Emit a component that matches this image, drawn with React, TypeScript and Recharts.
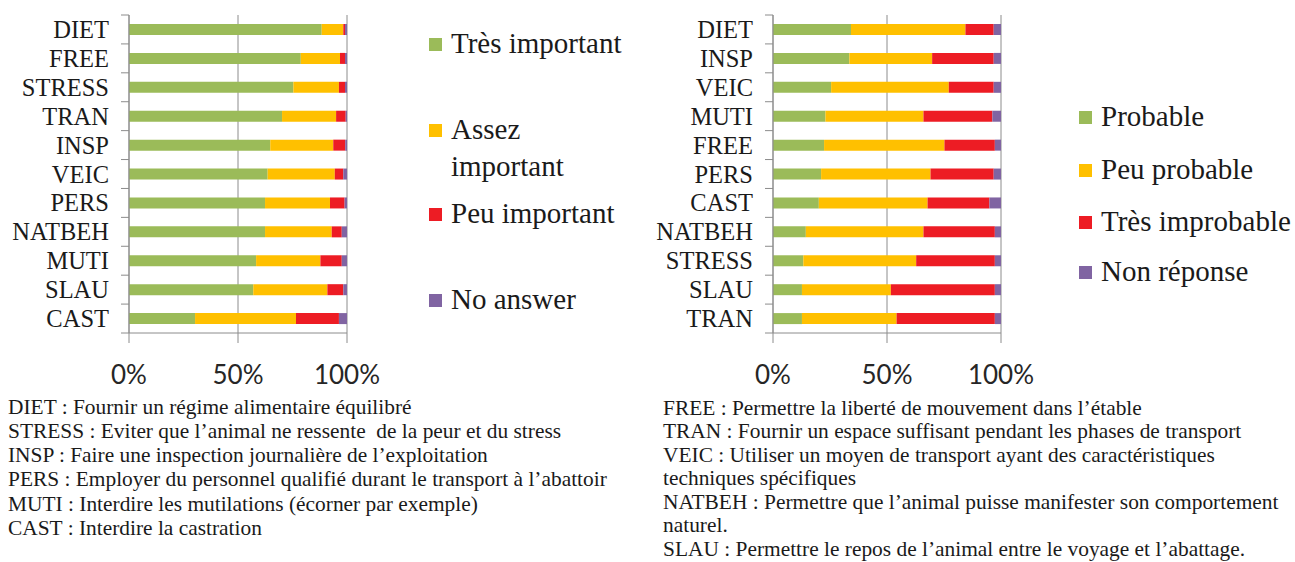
import { BarChart, Bar, XAxis, YAxis, CartesianGrid } from "recharts";

// left panel: importance
const categoriesLeft = ["DIET", "FREE", "STRESS", "TRAN", "INSP", "VEIC", "PERS", "NATBEH", "MUTI", "SLAU", "CAST"];
const tresImportant = [88.4, 78.8, 75.4, 70.2, 64.8, 63.6, 62.4, 62.4, 58.3, 57.0, 30.3];
const assezImportant = [9.9, 18.0, 20.9, 24.8, 28.9, 30.8, 29.8, 30.6, 29.5, 34.0, 46.3];
const peuImportant = [0.8, 2.3, 2.8, 4.4, 5.5, 3.9, 6.7, 4.6, 9.8, 7.3, 19.7];
const noAnswer = [0.9, 0.9, 0.9, 0.6, 0.8, 1.7, 1.1, 2.4, 2.4, 1.7, 3.7];

// right panel: probability
const categoriesRight = ["DIET", "INSP", "VEIC", "MUTI", "FREE", "PERS", "CAST", "NATBEH", "STRESS", "SLAU", "TRAN"];
const probable = [34.2, 33.5, 25.5, 23.0, 22.4, 21.1, 20.1, 14.4, 13.3, 12.7, 12.7];
const peuProbable = [50.2, 36.3, 51.6, 43.0, 52.8, 48.0, 47.7, 51.6, 49.5, 39.0, 41.5];
const tresImprobable = [12.4, 27.0, 19.7, 30.2, 22.1, 27.7, 27.1, 31.3, 34.5, 45.6, 43.1];
const nonReponse = [3.2, 3.2, 3.2, 3.8, 2.7, 3.2, 5.1, 2.7, 2.7, 2.7, 2.7];

const xTicks = [0, 0.5, 1];
const seriesColors = ["#9BBB59", "#FFC000", "#ED1C24", "#8064A2"];
const legendLeft = ["Très important", "Assez important", "Peu important", "No answer"];
const legendRight = ["Probable", "Peu probable", "Très improbable", "Non réponse"];

const notesLeft = [
  "DIET : Fournir un régime alimentaire équilibré",
  "STRESS : Eviter que l’animal ne ressente  de la peur et du stress",
  "INSP : Faire une inspection journalière de l’exploitation",
  "PERS : Employer du personnel qualifié durant le transport à l’abattoir",
  "MUTI : Interdire les mutilations (écorner par exemple)",
  "CAST : Interdire la castration",
];
const notesRight = [
  "FREE : Permettre la liberté de mouvement dans l’étable",
  "TRAN : Fournir un espace suffisant pendant les phases de transport",
  "VEIC : Utiliser un moyen de transport ayant des caractéristiques",
  "techniques spécifiques",
  "NATBEH : Permettre que l’animal puisse manifester son comportement",
  "naturel.",
  "SLAU : Permettre le repos de l’animal entre le voyage et l’abattage.",
];

const GRAY = "#8c8c8c";
const SERIF = "Liberation Serif";
const CHART_H = 400;
const PLOT_TOP = 15;
const PLOT_BOTTOM = 333;
const KEYS = ["s0", "s1", "s2", "s3"];

function buildRows(cats: string[], cols: number[][]) {
  return cats.map((cat, i) => ({
    cat,
    s0: cols[0][i],
    s1: cols[1][i],
    s2: cols[2][i],
    s3: cols[3][i],
  }));
}

const leftRows = buildRows(categoriesLeft, [tresImportant, assezImportant, peuImportant, noAnswer]);
const rightRows = buildRows(categoriesRight, [probable, peuProbable, tresImprobable, nonReponse]);

interface PanelProps {
  rows: { cat: string }[];
  names: string[];
  width: number;
  axisWidth: number;
  rightGap: number;
}

function Panel({ rows, names, width, axisWidth, rightGap }: PanelProps) {
  const band = (PLOT_BOTTOM - PLOT_TOP) / rows.length;

  const renderTick = (props: any) => {
    const { y, payload, index } = props;
    const ax = axisWidth;
    return (
      <g>
        <text
          x={ax - 20}
          y={y}
          textAnchor="end"
          dominantBaseline="central"
          fontFamily={SERIF}
          fontSize={24.5}
          fill="#1a1a1a"
        >
          {payload.value}
        </text>
        <line x1={ax - 8} x2={ax} y1={y - band / 2} y2={y - band / 2} stroke={GRAY} />
        {index === rows.length - 1 && (
          <line x1={ax - 8} x2={ax} y1={y + band / 2} y2={y + band / 2} stroke={GRAY} />
        )}
      </g>
    );
  };

  return (
    <BarChart
      width={width}
      height={CHART_H}
      data={rows}
      layout="vertical"
      stackOffset="expand"
      margin={{ top: PLOT_TOP, right: rightGap, bottom: CHART_H - PLOT_BOTTOM - 60, left: 0 }}
    >
      <CartesianGrid horizontal={false} stroke={GRAY} />
      <XAxis
        type="number"
        domain={[0, 1]}
        ticks={xTicks}
        height={60}
        tickFormatter={(v: number) => `${Math.round(v * 100)}%`}
        tick={{ fontSize: 26, fill: "#262626", fontFamily: "Lato" }}
        tickSize={10}
        tickMargin={23}
        axisLine={{ stroke: GRAY }}
        tickLine={{ stroke: GRAY }}
      />
      <YAxis
        type="category"
        dataKey="cat"
        width={axisWidth}
        axisLine={{ stroke: GRAY }}
        tickLine={false}
        tick={renderTick}
        interval={0}
      />
      {KEYS.map((k, i) => (
        <Bar
          key={k}
          dataKey={k}
          name={names[i]}
          stackId="a"
          fill={seriesColors[i]}
          barSize={11}
          isAnimationActive={false}
        />
      ))}
    </BarChart>
  );
}

function LegendBox({ names, left, tops, textWidth }: { names: string[]; left: number; tops: number[]; textWidth: number }) {
  return (
    <>
      {names.map((n, i) => (
        <div
          key={n}
          style={{
            position: "absolute",
            left,
            top: tops[i],
            display: "flex",
            alignItems: "flex-start",
            fontFamily: SERIF,
            fontSize: 29,
            lineHeight: "37px",
            color: "#1a1a1a",
          }}
        >
          <div style={{ width: 13, height: 13, background: seriesColors[i], marginTop: 13, marginRight: 9, flexShrink: 0 }} />
          <div style={{ width: textWidth }}>{n}</div>
        </div>
      ))}
    </>
  );
}

function Notes({ lines, left, top, lineHeight }: { lines: string[]; left: number; top: number; lineHeight: number }) {
  return (
    <div
      style={{
        position: "absolute",
        left,
        top,
        fontFamily: SERIF,
        fontSize: 21.4,
        lineHeight: `${lineHeight}px`,
        color: "#1a1a1a",
        whiteSpace: "pre",
      }}
    >
      {lines.map((l) => (
        <div key={l}>{l}</div>
      ))}
    </div>
  );
}

export default function App() {
  return (
    <div style={{ position: "absolute", left: 0, top: 0, width: 1295, height: 562, background: "#fff", overflow: "hidden" }}>
      <div style={{ position: "absolute", left: 0, top: 0 }}>
        <Panel rows={leftRows} names={legendLeft} width={400} axisWidth={129} rightGap={53} />
      </div>
      <div style={{ position: "absolute", left: 640, top: 0 }}>
        <Panel rows={rightRows} names={legendRight} width={420} axisWidth={133} rightGap={59} />
      </div>
      <LegendBox names={legendLeft} left={429} tops={[25, 111, 195, 281]} textWidth={180} />
      <LegendBox names={legendRight} left={1079} tops={[98, 151, 203, 253]} textWidth={210} />
      <Notes lines={notesLeft} left={8} top={394.5} lineHeight={24.3} />
      <Notes lines={notesRight} left={663} top={396.5} lineHeight={23.6} />
    </div>
  );
}
